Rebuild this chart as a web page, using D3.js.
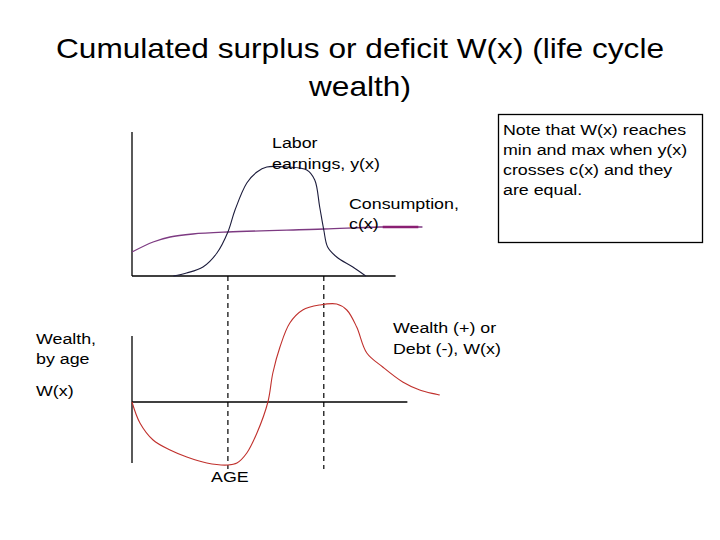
<!DOCTYPE html>
<html>
<head>
<meta charset="utf-8">
<script src="https://cdn.jsdelivr.net/npm/d3@7"></script>
<style>
  body { margin: 0; background: #fff; }
  text { font-family: "Liberation Sans", Arial, sans-serif; fill: #000; }
</style>
</head>
<body>
<svg id="chart" width="720" height="540"></svg>
<script>
// ages (x) and values
var earnAges = [15.1, 19.9, 25.9, 31, 35, 37.6, 41.9, 45.6, 49.2, 56.5, 63.8, 66.7, 68.5, 70, 71.4, 74.7, 80.6, 85.3];
var earnVals = [0, 3, 9, 23, 44, 66, 93, 104, 109, 109, 106, 96, 69, 46, 29, 19, 9, 0];

var consAges = [0, 7.7, 13.9, 22.2, 35, 70, 90.4, 106];
var consVals = [24, 34, 39, 42, 44, 47, 49, 49];
var leaderAges = [91.5, 104.5];

var wealthAges = [0, 2.9, 7.7, 13.9, 20, 27.3, 35, 38.3, 41.9, 45.6, 49.6, 51.4, 54, 57.6, 62.3, 68.5, 74.7, 78.4, 82, 85.7, 91.5, 98.8, 105, 112.3];
var wealthVals = [0, -21, -38, -48, -55, -61, -63, -61, -51, -31, 0, 29, 55, 79, 92, 97, 98, 92, 75, 49, 35, 20, 12, 7];

var crossAges = [35, 70];

var titleLines = ["Cumulated surplus or deficit W(x) (life cycle", "wealth)"];
var noteLines = ["Note that W(x) reaches", "min and max when y(x)", "crosses c(x) and they", "are equal."];

var svg = d3.select("#chart");

// scales
var x = d3.scaleLinear().domain([0, 100]).range([132, 406]);
var yTop = d3.scaleLinear().domain([0, 144]).range([276, 132]);
var yBot = d3.scaleLinear().domain([-100, 100]).range([502, 302]);

function zip(a, b) { return a.map(function(d, i) { return [d, b[i]]; }); }

// stretched text, the slide was widened a bit
function label(txt, px, py, size, sx) {
  svg.append("text")
    .attr("transform", "translate(" + px + "," + py + ") scale(" + sx + ",1)")
    .style("font-size", size + "px")
    .text(txt);
}

// title
titleLines.forEach(function(t, i) {
  svg.append("text")
    .attr("transform", "translate(360," + (58 + i * 38) + ") scale(1.13,1)")
    .attr("text-anchor", "middle")
    .style("font-size", "28px")
    .text(t);
});

// dashed lines where y(x) crosses c(x)
svg.selectAll(".cross")
  .data(crossAges)
  .enter().append("line")
    .attr("x1", function(d) { return x(d); })
    .attr("x2", function(d) { return x(d); })
    .attr("y1", yTop(0))
    .attr("y2", yBot(-67))
    .attr("stroke", "#000")
    .attr("stroke-width", 1.2)
    .attr("stroke-dasharray", "5,4");

// top axes
svg.append("line")
  .attr("x1", x(0)).attr("x2", x(0))
  .attr("y1", yTop(144)).attr("y2", yTop(0))
  .attr("stroke", "#000").attr("stroke-width", 1.3);
svg.append("line")
  .attr("x1", x(0)).attr("x2", x(96.2))
  .attr("y1", yTop(0)).attr("y2", yTop(0))
  .attr("stroke", "#000").attr("stroke-width", 1.3);

// bottom axes
svg.append("line")
  .attr("x1", x(0)).attr("x2", x(0))
  .attr("y1", yBot(66)).attr("y2", yBot(-61))
  .attr("stroke", "#000").attr("stroke-width", 1.3);
svg.append("line")
  .attr("x1", x(0)).attr("x2", x(100.5))
  .attr("y1", yBot(0)).attr("y2", yBot(0))
  .attr("stroke", "#000").attr("stroke-width", 1.3);

var lineTop = d3.line()
  .x(function(d) { return x(d[0]); })
  .y(function(d) { return yTop(d[1]); })
  .curve(d3.curveCatmullRom.alpha(0.5));

var lineBot = d3.line()
  .x(function(d) { return x(d[0]); })
  .y(function(d) { return yBot(d[1]); })
  .curve(d3.curveCatmullRom.alpha(0.5));

// consumption
svg.append("path")
  .datum(zip(consAges, consVals))
  .attr("d", lineTop)
  .attr("fill", "none")
  .attr("stroke", "#7d3a82")
  .attr("stroke-width", 1.3);

svg.append("path")
  .datum(leaderAges.map(function(a) { return [a, 49]; }))
  .attr("d", lineTop)
  .attr("fill", "none")
  .attr("stroke", "#8a1f73")
  .attr("stroke-width", 2.5);

// labor earnings
svg.append("path")
  .datum(zip(earnAges, earnVals))
  .attr("d", lineTop)
  .attr("fill", "none")
  .attr("stroke", "#1c1c3c")
  .attr("stroke-width", 1.1);

// wealth
svg.append("path")
  .datum(zip(wealthAges, wealthVals))
  .attr("d", lineBot)
  .attr("fill", "none")
  .attr("stroke", "#c0302c")
  .attr("stroke-width", 1.1);

// labels
label("Labor", 272, 148, 15.5, 1.15);
label("earnings, y(x)", 272, 169, 15.5, 1.15);
label("Consumption,", 349, 209, 15.5, 1.15);
label("c(x)", 349, 229, 15.5, 1.15);
label("Wealth (+) or", 393, 333, 15.5, 1.15);
label("Debt (-), W(x)", 393, 354, 15.5, 1.15);
label("Wealth,", 36, 344, 15.5, 1.15);
label("by age", 36, 364, 15.5, 1.15);
label("W(x)", 36, 396, 15.5, 1.15);
label("AGE", 211, 482, 15.5, 1.15);

// note box
svg.append("rect")
  .attr("x", 498.5).attr("y", 114.5)
  .attr("width", 204).attr("height", 128)
  .attr("fill", "#fff")
  .attr("stroke", "#000")
  .attr("stroke-width", 1.3);

noteLines.forEach(function(t, i) {
  label(t, 503, 135 + i * 20, 15.5, 1.15);
});
</script>
</body>
</html>
